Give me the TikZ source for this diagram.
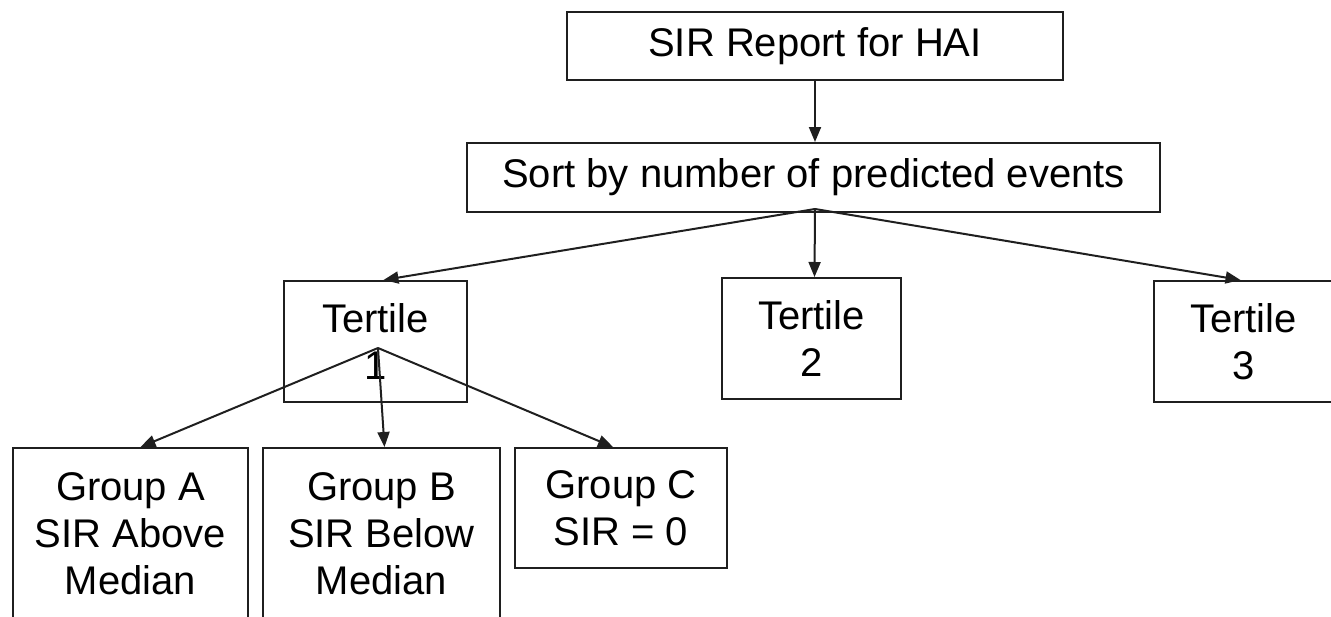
\documentclass[tikz,border=0pt]{standalone}
\usepackage{fontspec}
\setmainfont{Liberation Sans}
\usetikzlibrary{arrows.meta}
\begin{document}
\begin{tikzpicture}[x=1pt,y=-1pt,
  box/.style={draw=black!88, line width=2pt, rectangle, inner sep=0pt,
    align=center, font=\fontsize{40}{47}\selectfont},
  link/.style={draw=black!88, line width=2pt,
    -{Triangle[length=15pt,width=12pt]}}]
  \useasboundingbox (0,0) rectangle (1331,616);
  % top of the tree
  \node[box, minimum width=496pt, minimum height=68pt] (report) at (815,46) {SIR Report for HAI};
  \node[box, minimum width=693pt, minimum height=69pt] (sort) at (813.5,177.5) {Sort by number of predicted events};
  % tertiles
  \node[box, minimum width=183pt, minimum height=121pt] (t1) at (375.5,341.5) {Tertile\\1};
  \node[box, minimum width=179pt, minimum height=121pt] (t2) at (811.5,338.5) {Tertile\\2};
  \node[box, minimum width=179pt, minimum height=121pt] (t3) at (1243.5,341.5) {Tertile\\3};
  % groups of the first tertile
  \node[box, minimum width=235pt, minimum height=172pt] (ga) at (130.5,534) {Group A\\SIR Above\\Median};
  \node[box, minimum width=237pt, minimum height=172pt] (gb) at (381.5,534) {Group B\\SIR Below\\Median};
  \node[box, minimum width=212pt, minimum height=120pt] (gc) at (621,508) {Group C\\SIR = 0};
  % branch points
  \coordinate (sortsrc) at ([xshift=1.5pt,yshift=4pt]sort.south);
  \coordinate (t1src) at ([xshift=2.5pt,yshift=-6.5pt]t1.center);
  % connectors
  \draw[link] (report.south) -- (report.south |- sort.north);
  \draw[link] (sortsrc) -- ([xshift=8pt]t1.north);
  \draw[link] (sortsrc) -- ([xshift=3pt]t2.north);
  \draw[link] (sortsrc) -- ([xshift=-3pt]t3.north);
  \draw[link] (t1src) -- ([xshift=10pt]ga.north);
  \draw[link] (t1src) -- ([xshift=3pt]gb.north);
  \draw[link] (t1src) -- ([xshift=-8pt]gc.north);
\end{tikzpicture}
\end{document}
